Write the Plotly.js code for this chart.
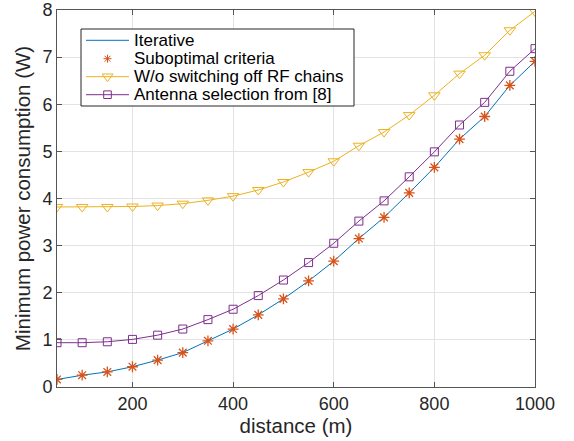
<!DOCTYPE html>
<html>
<head>
<meta charset="utf-8">
<script src="https://cdn.plot.ly/plotly-3.0.1.min.js"></script>
<style>html,body{margin:0;padding:0;background:#fff}#chart{width:574px;height:441px}</style>
</head>
<body>
<div id="chart"></div>
<script>
const distance = [50,100,150,200,250,300,350,400,450,500,550,600,650,700,750,800,850,900,950,1000];
const iterative = [0.16,0.25,0.32,0.43,0.57,0.73,0.98,1.23,1.53,1.87,2.25,2.67,3.15,3.60,4.12,4.66,5.26,5.74,6.40,6.91];
const suboptimal = [0.16,0.25,0.32,0.43,0.57,0.73,0.98,1.23,1.53,1.87,2.25,2.67,3.15,3.60,4.12,4.66,5.26,5.74,6.40,6.91];
const noSwitchOff = [3.82,3.82,3.82,3.83,3.85,3.89,3.96,4.05,4.18,4.35,4.56,4.79,5.12,5.41,5.77,6.19,6.65,7.04,7.57,7.97];
const antennaSel = [0.94,0.94,0.96,1.01,1.10,1.23,1.43,1.65,1.94,2.27,2.64,3.05,3.52,3.95,4.46,4.99,5.56,6.04,6.70,7.18];
const seriesNames = ['Iterative', 'Suboptimal criteria', 'W/o switching off RF chains', 'Antenna selection from [8]'];
const xTicks = [200,400,600,800,1000];
const yTicks = [0,1,2,3,4,5,6,7,8];

const FONT = 'Liberation Sans, Arial, Helvetica, sans-serif';
const C = {blue: '#0072BD', orange: '#D95319', yellow: '#EDB120', purple: '#7E2F8E'};

const traces = [
  {x: distance, y: iterative, name: seriesNames[0], mode: 'lines',
   line: {color: C.blue, width: 1}},
  {x: distance, y: suboptimal, name: seriesNames[1], mode: 'markers',
   marker: {symbol: 'asterisk-open', size: 9, color: C.orange, line: {color: C.orange, width: 1.3}}},
  {x: distance, y: noSwitchOff, name: seriesNames[2], mode: 'lines+markers',
   line: {color: C.yellow, width: 1},
   marker: {symbol: 'triangle-down-open', size: 10, color: C.yellow, line: {color: C.yellow, width: 1}}},
  {x: distance, y: antennaSel, name: seriesNames[3], mode: 'lines+markers',
   line: {color: C.purple, width: 1},
   marker: {symbol: 'square-open', size: 8, color: C.purple, line: {color: C.purple, width: 1}}}
];

// ---- custom legend (layout decoration, pixel based) ----
const M = {l: 57, r: 39, t: 10, b: 54};
const PW = 574 - M.l - M.r, PH = 441 - M.t - M.b;
const px = v => (v - M.l) / PW;            // page pixel x -> paper x
const py = v => (441 - M.b - v) / PH;      // page pixel y -> paper y
const legBox = {left: 81, right: 354, top: 29, bottom: 106};
const rowY = [40.3, 58.7, 76.7, 94.7];
const sample = {x0: 86, x1: 129, mid: 107.5, text: 133};

const shapes = [
  {type: 'rect', xref: 'paper', yref: 'paper', x0: px(legBox.left), x1: px(legBox.right),
   y0: py(legBox.bottom), y1: py(legBox.top), line: {color: '#262626', width: 1}, fillcolor: '#ffffff', layer: 'above'}
];
const sampleLine = (i, color) => shapes.push({type: 'line', xref: 'paper', yref: 'paper',
  x0: px(sample.x0), x1: px(sample.x1), y0: py(rowY[i]), y1: py(rowY[i]), line: {color: color, width: 1}, layer: 'above'});
const sampleMark = (i, color, path) => shapes.push({type: 'path', xref: 'paper', yref: 'paper',
  xsizemode: 'pixel', ysizemode: 'pixel', xanchor: px(sample.mid), yanchor: py(rowY[i]),
  path: path, line: {color: color, width: 1}, fillcolor: 'rgba(0,0,0,0)', layer: 'above'});
sampleLine(0, C.blue);
sampleMark(1, C.orange, 'M-4,0L4,0M0,-4L0,4M-2.9,-2.9L2.9,2.9M-2.9,2.9L2.9,-2.9');
sampleLine(2, C.yellow);
sampleMark(2, C.yellow, 'M-5.5,2.7L5.5,2.7L0,-5Z');
sampleLine(3, C.purple);
sampleMark(3, C.purple, 'M-3.8,-3.8L3.8,-3.8L3.8,3.8L-3.8,3.8Z');

const annotations = seriesNames.map((n, i) => ({
  text: n, xref: 'paper', yref: 'paper', x: px(sample.text - 1), y: py(rowY[i]),
  xanchor: 'left', yanchor: 'middle', showarrow: false,
  font: {family: FONT, size: 17, color: '#000000'}
}));

const axisCommon = {
  showline: true, mirror: 'ticks', linecolor: '#555555', linewidth: 1,
  ticks: 'inside', ticklen: 5, tickcolor: '#555555', tickwidth: 1,
  showgrid: true, gridcolor: '#e3e3e3', gridwidth: 1, zeroline: false,
  tickfont: {family: FONT, size: 18, color: '#262626'}
};
const layout = {
  width: 574, height: 441,
  margin: M,
  paper_bgcolor: '#ffffff', plot_bgcolor: '#ffffff',
  showlegend: false,
  xaxis: Object.assign({}, axisCommon, {
    range: [50, 1000], tickvals: xTicks, ticktext: xTicks.map(String),
    title: {text: 'distance (m)', font: {family: FONT, size: 20.5, color: '#262626'}, standoff: 3}
  }),
  yaxis: Object.assign({}, axisCommon, {
    range: [0, 8], tickvals: yTicks, ticktext: yTicks.map(String),
    title: {text: 'Minimum power consumption (W)', font: {family: FONT, size: 20.5, color: '#262626'}, standoff: 6}
  }),
  shapes: shapes,
  annotations: annotations
};
Plotly.newPlot('chart', traces, layout, {displayModeBar: false, staticPlot: true});
</script>
</body>
</html>
